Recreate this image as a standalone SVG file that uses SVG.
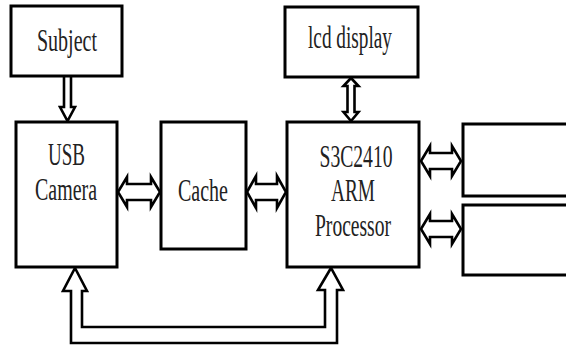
<svg xmlns="http://www.w3.org/2000/svg" width="566" height="347" viewBox="0 0 566 347">
<style>
.box{fill:#fff;stroke:#000;stroke-width:3}
.arr{fill:#fff;stroke:#000;stroke-width:2.6;stroke-linejoin:miter}
.t{font-family:"Liberation Serif","Times New Roman",serif;font-size:31px;fill:#222;text-anchor:middle}
</style>
<rect x="0" y="0" width="566" height="347" fill="#fff"/>
<g id="connectors">
<polyline class="arr" points="64,77 64,107 60,107 67.5,121 75,107 71,107 71,77"/>
<polygon class="arr" points="351,78 358.5,86 354.5,86 354.5,112 358.5,112 351,121 343.5,112 347.5,112 347.5,86 343.5,86"/>
<polygon class="arr" points="118,192 127,177 127,184 151,184 151,177 160,192 151,207 151,200 127,200 127,207"/>
<polygon class="arr" points="247,192 256,176 256,184 277,184 277,176 286,192 277,208 277,200 256,200 256,208"/>
<polygon class="arr" points="421,161 430,146 430,153 452,153 452,146 461,161 452,176 452,169 430,169 430,176"/>
<polygon class="arr" points="421,229 430,214 430,221 452,221 452,214 461,229 452,244 452,237 430,237 430,244"/>
<polygon class="arr" points="75,268 87,291 82,291 82,327 325,327 325,290 318,290 331,268 343,290 337,290 337,343 71,343 71,291 63,291"/>
</g>
<g id="subject">
<rect class="box" x="11" y="6" width="111" height="70"/>
<text class="t" x="67" y="51" textLength="60" lengthAdjust="spacingAndGlyphs">Subject</text>
</g>
<g id="lcd">
<rect class="box" x="285" y="7" width="133" height="70"/>
<text class="t" x="350" y="48" textLength="84" lengthAdjust="spacingAndGlyphs">lcd display</text>
</g>
<g id="usb-camera">
<rect class="box" x="16" y="122" width="101" height="145"/>
<text class="t" x="66.5" y="165" textLength="37" lengthAdjust="spacingAndGlyphs">USB</text>
<text class="t" x="66" y="200" textLength="62" lengthAdjust="spacingAndGlyphs">Camera</text>
</g>
<g id="cache">
<rect class="box" x="161" y="122" width="85" height="127"/>
<text class="t" x="203" y="201" textLength="50" lengthAdjust="spacingAndGlyphs">Cache</text>
</g>
<g id="processor">
<rect class="box" x="287" y="122" width="132" height="145"/>
<text class="t" x="356" y="167" textLength="73" lengthAdjust="spacingAndGlyphs">S3C2410</text>
<text class="t" x="353" y="201" textLength="44" lengthAdjust="spacingAndGlyphs">ARM</text>
<text class="t" x="353" y="236" textLength="76" lengthAdjust="spacingAndGlyphs">Processor</text>
</g>
<g id="right-box-1">
<rect class="box" x="463" y="124" width="110" height="72"/>
</g>
<g id="right-box-2">
<rect class="box" x="463" y="205" width="110" height="70"/>
</g>
</svg>
